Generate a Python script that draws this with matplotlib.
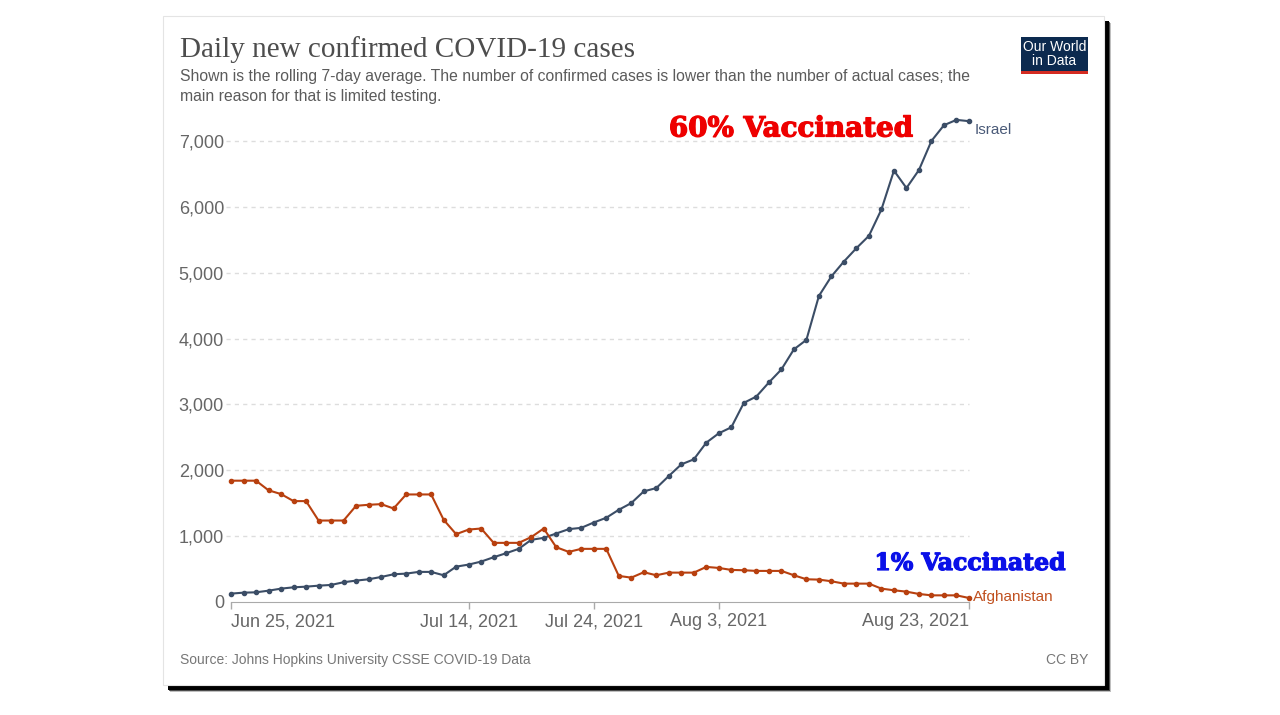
import pandas as pd
import numpy as np
import matplotlib
matplotlib.use('Agg')
import matplotlib.pyplot as plt
import matplotlib.patheffects as pe
from matplotlib.patches import Rectangle
from matplotlib.ticker import FuncFormatter

plt.rcParams['font.family'] = ['Liberation Sans', 'DejaVu Sans']

# Data (7-day rolling average of daily new confirmed cases)
dates = pd.date_range('2021-06-25', '2021-08-23', freq='D')
israel = [127, 142, 147, 172, 203, 223, 233, 248, 259, 300,
          325, 345, 380, 421, 431, 457, 457, 406, 537, 568,
          614, 680, 741, 807, 944, 974, 1040, 1106, 1126, 1207,
          1279, 1400, 1502, 1680, 1730, 1913, 2090, 2166, 2420, 2562,
          2653, 3024, 3120, 3333, 3531, 3836, 3980, 4647, 4945, 5170,
          5373, 5560, 5961, 6550, 6286, 6560, 7002, 7240, 7321, 7301]
afghanistan = [1842, 1842, 1842, 1696, 1639, 1532, 1532, 1237, 1237, 1237,
               1461, 1476, 1486, 1420, 1633, 1633, 1633, 1248, 1030, 1100,
               1116, 898, 898, 898, 985, 1116, 832, 761, 807, 807,
               807, 396, 370, 452, 406, 446, 446, 446, 533, 517,
               487, 482, 472, 472, 472, 406, 345, 340, 315, 279,
               279, 279, 203, 178, 157, 122, 101, 101, 101, 61]
x_ticks = ['2021-06-25', '2021-07-14', '2021-07-24', '2021-08-03', '2021-08-23']
x_labels = ['Jun 25, 2021', 'Jul 14, 2021', 'Jul 24, 2021', 'Aug 3, 2021', 'Aug 23, 2021']
y_ticks = [0, 1000, 2000, 3000, 4000, 5000, 6000, 7000]

W, H = 1280, 715
ISRAEL_C = '#3b4d66'
AFG_C = '#b8400f'
GREY = '#666666'


def fx(px):
    return px / W


def fy(py):
    return 1 - py / H


fig = plt.figure(figsize=(W / 100, H / 100), dpi=100)
fig.patch.set_facecolor('white')

# card with drop shadow
for off, a in [(7, 0.25), (6, 0.6), (5, 1.0)]:
    fig.patches.append(Rectangle((fx(163 + off), fy(685 + off)), fx(941), 669 / H,
                                 transform=fig.transFigure, facecolor='black',
                                 edgecolor='none', alpha=a, zorder=-3))
fig.patches.append(Rectangle((fx(163), fy(685)), fx(941), 669 / H,
                             transform=fig.transFigure, facecolor='white',
                             edgecolor='#e4e4e4', linewidth=0.8, zorder=-2))

# plot area: Jun 25 at x=231, Aug 23 at x=969, 0 at y=602
y_top = 7400
px_per_unit = 461 / 7000
top_px = 602 - y_top * px_per_unit
ax = fig.add_axes([fx(231), fy(602), fx(969 - 231), (602 - top_px) / H])
ax.set_facecolor('none')
ax.set_zorder(2)

ax.plot(dates, israel, color=ISRAEL_C, lw=1.5, marker='o', ms=3, zorder=3, clip_on=False)
ax.plot(dates, afghanistan, color=AFG_C, lw=1.5, marker='o', ms=3, zorder=3, clip_on=False)

ax.set_xlim(dates[0], dates[-1])
ax.set_ylim(0, y_top)
ax.set_yticks(y_ticks)
ax.yaxis.set_major_formatter(FuncFormatter(lambda v, p: f'{int(v):,}'))
ax.tick_params(axis='y', length=0, pad=5, labelsize=13, labelcolor=GREY)
for y in y_ticks[1:]:
    ax.axhline(y, xmin=-0.007, color='#dddddd', lw=1, ls=(0, (3, 3)), zorder=1, clip_on=False)

ax.set_xticks(pd.to_datetime(x_ticks))
ax.set_xticklabels(x_labels)
ax.tick_params(axis='x', length=5, width=1, color='#aaaaaa', pad=3,
               labelsize=13, labelcolor=GREY)
tl = ax.get_xticklabels()
tl[0].set_ha('left')
tl[-1].set_ha('right')

for s in ['top', 'right', 'left']:
    ax.spines[s].set_visible(False)
ax.spines['bottom'].set_color('#aaaaaa')

# end-of-line labels
ax.annotate('Israel', (dates[-1], israel[-1]), xytext=(4, -6), textcoords='offset points',
            color='#4a5a78', fontsize=11, va='center', ha='left', annotation_clip=False)
ax.annotate('Afghanistan', (dates[-1], afghanistan[-1]), xytext=(3, 1), textcoords='offset points',
            color='#c0501f', fontsize=11, va='center', ha='left', annotation_clip=False)

# overlaid annotations
fig.text(fx(791), fy(129), '60% Vaccinated', color='#ee0000', fontsize=20,
         fontweight='heavy', family='DejaVu Serif', ha='center', va='center',
         path_effects=[pe.withStroke(linewidth=0.9, foreground='#ee0000')])
fig.text(fx(970), fy(563), '1% Vaccinated', color='#0a10e8', fontsize=17,
         fontweight='heavy', family='DejaVu Serif', ha='center', va='center',
         path_effects=[pe.withStroke(linewidth=0.9, foreground='#0a10e8')])

# header
fig.text(fx(180), fy(50), 'Daily new confirmed COVID-19 cases', fontsize=21,
         family='Liberation Serif', color='#4d4d4d', va='center')
fig.text(fx(180), fy(76), 'Shown is the rolling 7-day average. The number of confirmed cases is lower '
         'than the number of actual cases; the', fontsize=11.3, color='#5b5b5b', va='center')
fig.text(fx(180), fy(96), 'main reason for that is limited testing.', fontsize=11.3,
         color='#5b5b5b', va='center')

# logo
fig.patches.append(Rectangle((fx(1021), fy(74)), fx(67), 37 / H, transform=fig.transFigure,
                             facecolor='#0c2a4f', edgecolor='none', zorder=2))
fig.patches.append(Rectangle((fx(1021), fy(74)), fx(67), 3 / H, transform=fig.transFigure,
                             facecolor='#d42b21', edgecolor='none', zorder=3))
fig.text(fx(1054.5), fy(54), 'Our World\nin Data', color='white', fontsize=10,
         ha='center', va='center', linespacing=1.0, zorder=4)

# footer
fig.text(fx(180), fy(660), 'Source: Johns Hopkins University CSSE COVID-19 Data',
         fontsize=10, color='#777777', va='center')
fig.text(fx(1088), fy(660), 'CC BY', fontsize=10, color='#777777', va='center', ha='right')

plt.savefig('out.png', dpi=100)
